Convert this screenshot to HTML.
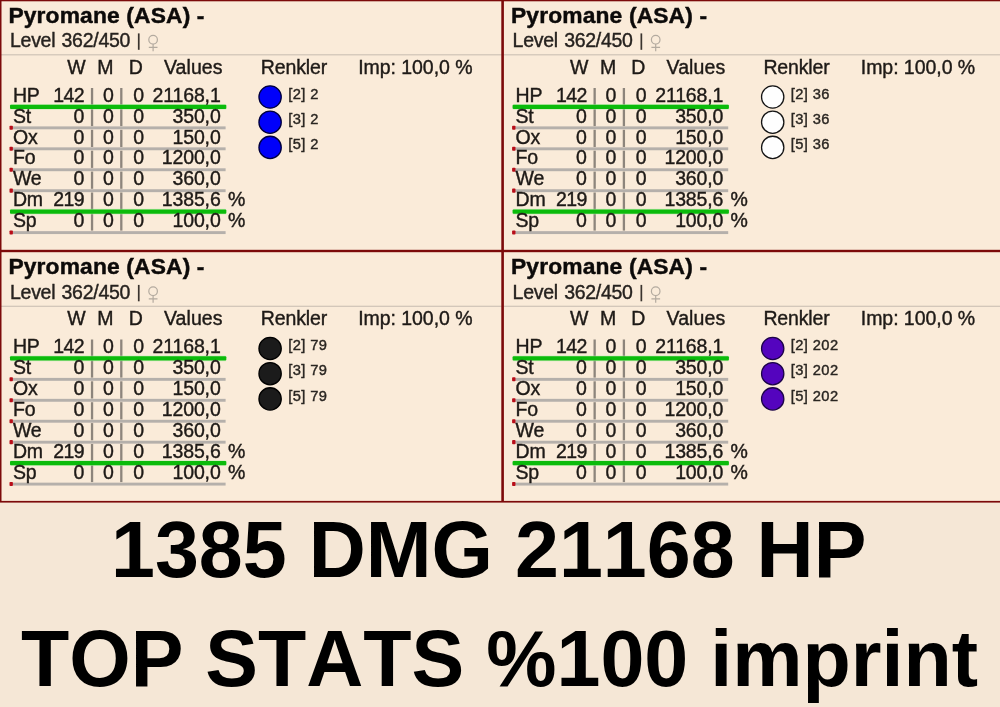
<!DOCTYPE html>
<html><head><meta charset="utf-8"><title>Pyromane</title>
<style>
html,body{margin:0;padding:0}
body{width:1000px;height:707px;overflow:hidden;position:relative;background:#f5e7d6;font-family:"Liberation Sans",sans-serif;color:#1e1a17}
.top{will-change:transform;position:absolute;left:0;top:0;width:1000px;height:503px;background:#faebd9;overflow:hidden}
.top svg{position:absolute;left:0;top:0}
.p{position:absolute;width:502.6px;height:251.5px}
.t{position:absolute;white-space:pre;line-height:1;letter-spacing:-0.15px;-webkit-text-stroke:0.4px currentColor}
.b{font-weight:bold;color:#0c0a09}
.lv{color:#26221f}
.cl{color:#2a2622}
.big{will-change:transform;position:absolute;left:0;white-space:pre;font-weight:bold;color:#000;font-size:79.0px;line-height:1;font-kerning:none}
</style></head><body>
<div class="top">
<svg width="1000" height="503" viewBox="0 0 1000 503">
<rect x="0" y="502.6" width="1000" height="0.4" fill="#f5e7d6"/>
<g transform="translate(0 0)">
<rect x="0" y="54.2" width="502.6" height="1.2" fill="#cfc4b6"/>
<g fill="none" stroke="#b3aa9f" stroke-width="1.2"><circle cx="153.1" cy="39.7" r="4.3"/><path d="M153.1 44V51.3M148.8 47.3H157.5"/></g>
<rect x="137.9" y="33.4" width="1.7" height="16.4" fill="#3a342f"/>
<rect x="90.90" y="88.00" width="2.3" height="17.2" fill="#8d857c"/>
<rect x="120.15" y="88.00" width="2.3" height="17.2" fill="#8d857c"/>
<rect x="12.6" y="126.40" width="213" height="2.9" fill="#b5b0ab"/>
<rect x="9.5" y="125.75" width="3.4" height="4.1" rx="0.8" fill="#b80d18"/>
<rect x="90.90" y="108.90" width="2.3" height="17.2" fill="#8d857c"/>
<rect x="120.15" y="108.90" width="2.3" height="17.2" fill="#8d857c"/>
<rect x="12.6" y="147.35" width="213" height="2.9" fill="#b5b0ab"/>
<rect x="9.5" y="146.70" width="3.4" height="4.1" rx="0.8" fill="#b80d18"/>
<rect x="90.90" y="129.80" width="2.3" height="17.2" fill="#8d857c"/>
<rect x="120.15" y="129.80" width="2.3" height="17.2" fill="#8d857c"/>
<rect x="12.6" y="168.30" width="213" height="2.9" fill="#b5b0ab"/>
<rect x="9.5" y="167.65" width="3.4" height="4.1" rx="0.8" fill="#b80d18"/>
<rect x="90.90" y="150.70" width="2.3" height="17.2" fill="#8d857c"/>
<rect x="120.15" y="150.70" width="2.3" height="17.2" fill="#8d857c"/>
<rect x="12.6" y="189.25" width="213" height="2.9" fill="#b5b0ab"/>
<rect x="9.5" y="188.60" width="3.4" height="4.1" rx="0.8" fill="#b80d18"/>
<rect x="90.90" y="171.60" width="2.3" height="17.2" fill="#8d857c"/>
<rect x="120.15" y="171.60" width="2.3" height="17.2" fill="#8d857c"/>
<rect x="90.90" y="192.50" width="2.3" height="17.2" fill="#8d857c"/>
<rect x="120.15" y="192.50" width="2.3" height="17.2" fill="#8d857c"/>
<rect x="12.6" y="231.15" width="213" height="2.9" fill="#b5b0ab"/>
<rect x="9.5" y="230.50" width="3.4" height="4.1" rx="0.8" fill="#b80d18"/>
<rect x="90.90" y="213.40" width="2.3" height="17.2" fill="#8d857c"/>
<rect x="120.15" y="213.40" width="2.3" height="17.2" fill="#8d857c"/>
<rect x="9.9" y="104.10" width="216.6" height="5.6" rx="1.5" fill="#b9ecae" opacity="0.55"/>
<rect x="10" y="104.85" width="216.3" height="4.1" rx="1" fill="#0bbb0b"/>
<rect x="9.9" y="208.85" width="216.6" height="5.6" rx="1.5" fill="#b9ecae" opacity="0.55"/>
<rect x="10" y="209.60" width="216.3" height="4.1" rx="1" fill="#0bbb0b"/>
<circle cx="270.1" cy="97.00" r="11.15" fill="#0000fa" stroke="#00003c" stroke-width="1.3"/>
<circle cx="270.1" cy="122.20" r="11.15" fill="#0000fa" stroke="#00003c" stroke-width="1.3"/>
<circle cx="270.1" cy="147.40" r="11.15" fill="#0000fa" stroke="#00003c" stroke-width="1.3"/>
</g>
<g transform="translate(502.6 0)">
<rect x="0" y="54.2" width="502.6" height="1.2" fill="#cfc4b6"/>
<g fill="none" stroke="#b3aa9f" stroke-width="1.2"><circle cx="153.1" cy="39.7" r="4.3"/><path d="M153.1 44V51.3M148.8 47.3H157.5"/></g>
<rect x="137.9" y="33.4" width="1.7" height="16.4" fill="#3a342f"/>
<rect x="90.90" y="88.00" width="2.3" height="17.2" fill="#8d857c"/>
<rect x="120.15" y="88.00" width="2.3" height="17.2" fill="#8d857c"/>
<rect x="12.6" y="126.40" width="213" height="2.9" fill="#b5b0ab"/>
<rect x="9.5" y="125.75" width="3.4" height="4.1" rx="0.8" fill="#b80d18"/>
<rect x="90.90" y="108.90" width="2.3" height="17.2" fill="#8d857c"/>
<rect x="120.15" y="108.90" width="2.3" height="17.2" fill="#8d857c"/>
<rect x="12.6" y="147.35" width="213" height="2.9" fill="#b5b0ab"/>
<rect x="9.5" y="146.70" width="3.4" height="4.1" rx="0.8" fill="#b80d18"/>
<rect x="90.90" y="129.80" width="2.3" height="17.2" fill="#8d857c"/>
<rect x="120.15" y="129.80" width="2.3" height="17.2" fill="#8d857c"/>
<rect x="12.6" y="168.30" width="213" height="2.9" fill="#b5b0ab"/>
<rect x="9.5" y="167.65" width="3.4" height="4.1" rx="0.8" fill="#b80d18"/>
<rect x="90.90" y="150.70" width="2.3" height="17.2" fill="#8d857c"/>
<rect x="120.15" y="150.70" width="2.3" height="17.2" fill="#8d857c"/>
<rect x="12.6" y="189.25" width="213" height="2.9" fill="#b5b0ab"/>
<rect x="9.5" y="188.60" width="3.4" height="4.1" rx="0.8" fill="#b80d18"/>
<rect x="90.90" y="171.60" width="2.3" height="17.2" fill="#8d857c"/>
<rect x="120.15" y="171.60" width="2.3" height="17.2" fill="#8d857c"/>
<rect x="90.90" y="192.50" width="2.3" height="17.2" fill="#8d857c"/>
<rect x="120.15" y="192.50" width="2.3" height="17.2" fill="#8d857c"/>
<rect x="12.6" y="231.15" width="213" height="2.9" fill="#b5b0ab"/>
<rect x="9.5" y="230.50" width="3.4" height="4.1" rx="0.8" fill="#b80d18"/>
<rect x="90.90" y="213.40" width="2.3" height="17.2" fill="#8d857c"/>
<rect x="120.15" y="213.40" width="2.3" height="17.2" fill="#8d857c"/>
<rect x="9.9" y="104.10" width="216.6" height="5.6" rx="1.5" fill="#b9ecae" opacity="0.55"/>
<rect x="10" y="104.85" width="216.3" height="4.1" rx="1" fill="#0bbb0b"/>
<rect x="9.9" y="208.85" width="216.6" height="5.6" rx="1.5" fill="#b9ecae" opacity="0.55"/>
<rect x="10" y="209.60" width="216.3" height="4.1" rx="1" fill="#0bbb0b"/>
<circle cx="270.1" cy="97.00" r="11.15" fill="#fefefe" stroke="#141414" stroke-width="1.3"/>
<circle cx="270.1" cy="122.20" r="11.15" fill="#fefefe" stroke="#141414" stroke-width="1.3"/>
<circle cx="270.1" cy="147.40" r="11.15" fill="#fefefe" stroke="#141414" stroke-width="1.3"/>
</g>
<g transform="translate(0 251.5)">
<rect x="0" y="54.2" width="502.6" height="1.2" fill="#cfc4b6"/>
<g fill="none" stroke="#b3aa9f" stroke-width="1.2"><circle cx="153.1" cy="39.7" r="4.3"/><path d="M153.1 44V51.3M148.8 47.3H157.5"/></g>
<rect x="137.9" y="33.4" width="1.7" height="16.4" fill="#3a342f"/>
<rect x="90.90" y="88.00" width="2.3" height="17.2" fill="#8d857c"/>
<rect x="120.15" y="88.00" width="2.3" height="17.2" fill="#8d857c"/>
<rect x="12.6" y="126.40" width="213" height="2.9" fill="#b5b0ab"/>
<rect x="9.5" y="125.75" width="3.4" height="4.1" rx="0.8" fill="#b80d18"/>
<rect x="90.90" y="108.90" width="2.3" height="17.2" fill="#8d857c"/>
<rect x="120.15" y="108.90" width="2.3" height="17.2" fill="#8d857c"/>
<rect x="12.6" y="147.35" width="213" height="2.9" fill="#b5b0ab"/>
<rect x="9.5" y="146.70" width="3.4" height="4.1" rx="0.8" fill="#b80d18"/>
<rect x="90.90" y="129.80" width="2.3" height="17.2" fill="#8d857c"/>
<rect x="120.15" y="129.80" width="2.3" height="17.2" fill="#8d857c"/>
<rect x="12.6" y="168.30" width="213" height="2.9" fill="#b5b0ab"/>
<rect x="9.5" y="167.65" width="3.4" height="4.1" rx="0.8" fill="#b80d18"/>
<rect x="90.90" y="150.70" width="2.3" height="17.2" fill="#8d857c"/>
<rect x="120.15" y="150.70" width="2.3" height="17.2" fill="#8d857c"/>
<rect x="12.6" y="189.25" width="213" height="2.9" fill="#b5b0ab"/>
<rect x="9.5" y="188.60" width="3.4" height="4.1" rx="0.8" fill="#b80d18"/>
<rect x="90.90" y="171.60" width="2.3" height="17.2" fill="#8d857c"/>
<rect x="120.15" y="171.60" width="2.3" height="17.2" fill="#8d857c"/>
<rect x="90.90" y="192.50" width="2.3" height="17.2" fill="#8d857c"/>
<rect x="120.15" y="192.50" width="2.3" height="17.2" fill="#8d857c"/>
<rect x="12.6" y="231.15" width="213" height="2.9" fill="#b5b0ab"/>
<rect x="9.5" y="230.50" width="3.4" height="4.1" rx="0.8" fill="#b80d18"/>
<rect x="90.90" y="213.40" width="2.3" height="17.2" fill="#8d857c"/>
<rect x="120.15" y="213.40" width="2.3" height="17.2" fill="#8d857c"/>
<rect x="9.9" y="104.10" width="216.6" height="5.6" rx="1.5" fill="#b9ecae" opacity="0.55"/>
<rect x="10" y="104.85" width="216.3" height="4.1" rx="1" fill="#0bbb0b"/>
<rect x="9.9" y="208.85" width="216.6" height="5.6" rx="1.5" fill="#b9ecae" opacity="0.55"/>
<rect x="10" y="209.60" width="216.3" height="4.1" rx="1" fill="#0bbb0b"/>
<circle cx="270.1" cy="97.00" r="11.15" fill="#1b1b1b" stroke="#000" stroke-width="1.3"/>
<circle cx="270.1" cy="122.20" r="11.15" fill="#1b1b1b" stroke="#000" stroke-width="1.3"/>
<circle cx="270.1" cy="147.40" r="11.15" fill="#1b1b1b" stroke="#000" stroke-width="1.3"/>
</g>
<g transform="translate(502.6 251.5)">
<rect x="0" y="54.2" width="502.6" height="1.2" fill="#cfc4b6"/>
<g fill="none" stroke="#b3aa9f" stroke-width="1.2"><circle cx="153.1" cy="39.7" r="4.3"/><path d="M153.1 44V51.3M148.8 47.3H157.5"/></g>
<rect x="137.9" y="33.4" width="1.7" height="16.4" fill="#3a342f"/>
<rect x="90.90" y="88.00" width="2.3" height="17.2" fill="#8d857c"/>
<rect x="120.15" y="88.00" width="2.3" height="17.2" fill="#8d857c"/>
<rect x="12.6" y="126.40" width="213" height="2.9" fill="#b5b0ab"/>
<rect x="9.5" y="125.75" width="3.4" height="4.1" rx="0.8" fill="#b80d18"/>
<rect x="90.90" y="108.90" width="2.3" height="17.2" fill="#8d857c"/>
<rect x="120.15" y="108.90" width="2.3" height="17.2" fill="#8d857c"/>
<rect x="12.6" y="147.35" width="213" height="2.9" fill="#b5b0ab"/>
<rect x="9.5" y="146.70" width="3.4" height="4.1" rx="0.8" fill="#b80d18"/>
<rect x="90.90" y="129.80" width="2.3" height="17.2" fill="#8d857c"/>
<rect x="120.15" y="129.80" width="2.3" height="17.2" fill="#8d857c"/>
<rect x="12.6" y="168.30" width="213" height="2.9" fill="#b5b0ab"/>
<rect x="9.5" y="167.65" width="3.4" height="4.1" rx="0.8" fill="#b80d18"/>
<rect x="90.90" y="150.70" width="2.3" height="17.2" fill="#8d857c"/>
<rect x="120.15" y="150.70" width="2.3" height="17.2" fill="#8d857c"/>
<rect x="12.6" y="189.25" width="213" height="2.9" fill="#b5b0ab"/>
<rect x="9.5" y="188.60" width="3.4" height="4.1" rx="0.8" fill="#b80d18"/>
<rect x="90.90" y="171.60" width="2.3" height="17.2" fill="#8d857c"/>
<rect x="120.15" y="171.60" width="2.3" height="17.2" fill="#8d857c"/>
<rect x="90.90" y="192.50" width="2.3" height="17.2" fill="#8d857c"/>
<rect x="120.15" y="192.50" width="2.3" height="17.2" fill="#8d857c"/>
<rect x="12.6" y="231.15" width="213" height="2.9" fill="#b5b0ab"/>
<rect x="9.5" y="230.50" width="3.4" height="4.1" rx="0.8" fill="#b80d18"/>
<rect x="90.90" y="213.40" width="2.3" height="17.2" fill="#8d857c"/>
<rect x="120.15" y="213.40" width="2.3" height="17.2" fill="#8d857c"/>
<rect x="9.9" y="104.10" width="216.6" height="5.6" rx="1.5" fill="#b9ecae" opacity="0.55"/>
<rect x="10" y="104.85" width="216.3" height="4.1" rx="1" fill="#0bbb0b"/>
<rect x="9.9" y="208.85" width="216.6" height="5.6" rx="1.5" fill="#b9ecae" opacity="0.55"/>
<rect x="10" y="209.60" width="216.3" height="4.1" rx="1" fill="#0bbb0b"/>
<circle cx="270.1" cy="97.00" r="11.15" fill="#5404be" stroke="#1c0448" stroke-width="1.3"/>
<circle cx="270.1" cy="122.20" r="11.15" fill="#5404be" stroke="#1c0448" stroke-width="1.3"/>
<circle cx="270.1" cy="147.40" r="11.15" fill="#5404be" stroke="#1c0448" stroke-width="1.3"/>
</g>
<g fill="#7c0a0a">
<rect x="0" y="0" width="1000" height="1.3"/>
<rect x="0" y="0" width="1.5" height="502"/>
<rect x="501.3" y="0" width="2.6" height="502"/>
<rect x="0" y="249.8" width="1000" height="2.4"/>
<rect x="0" y="500.9" width="1000" height="1.7"/>
</g>
</svg>
<div class="p" style="left:0px;top:0px">
<span class="t b" style="left:8.40px;top:4.00px;font-size:22.8px;letter-spacing:0.15px;-webkit-text-stroke-width:0.45px;">Pyromane (ASA) -</span>
<span class="t lv" style="left:10.00px;top:31.00px;font-size:19.5px;letter-spacing:-0.28px;word-spacing:1.2px;">Level 362/450</span>
<span class="t " style="left:67.30px;top:58.00px;font-size:19.5px;">W</span>
<span class="t " style="left:97.30px;top:58.00px;font-size:19.5px;">M</span>
<span class="t " style="left:128.70px;top:58.00px;font-size:19.5px;">D</span>
<span class="t " style="left:163.90px;top:58.00px;font-size:19.5px;letter-spacing:0.1px;">Values</span>
<span class="t " style="left:260.85px;top:58.00px;font-size:19.5px;">Renkler</span>
<span class="t " style="left:358.20px;top:58.00px;font-size:19.5px;letter-spacing:-0.05px;">Imp: 100,0 %</span>
<span class="t " style="left:12.90px;top:86.00px;font-size:19.5px;">HP</span>
<span class="t " style="right:418.50px;top:86.00px;font-size:19.5px;letter-spacing:-0.6px;">142</span>
<span class="t " style="left:103.00px;top:86.00px;font-size:19.5px;">0</span>
<span class="t " style="left:133.20px;top:86.00px;font-size:19.5px;">0</span>
<span class="t " style="right:282.00px;top:86.00px;font-size:19.5px;">21168,1</span>
<span class="t " style="left:12.90px;top:107.00px;font-size:19.5px;">St</span>
<span class="t " style="right:418.50px;top:107.00px;font-size:19.5px;">0</span>
<span class="t " style="left:103.00px;top:107.00px;font-size:19.5px;">0</span>
<span class="t " style="left:133.20px;top:107.00px;font-size:19.5px;">0</span>
<span class="t " style="right:282.00px;top:107.00px;font-size:19.5px;">350,0</span>
<span class="t " style="left:12.90px;top:128.00px;font-size:19.5px;">Ox</span>
<span class="t " style="right:418.50px;top:128.00px;font-size:19.5px;">0</span>
<span class="t " style="left:103.00px;top:128.00px;font-size:19.5px;">0</span>
<span class="t " style="left:133.20px;top:128.00px;font-size:19.5px;">0</span>
<span class="t " style="right:282.00px;top:128.00px;font-size:19.5px;">150,0</span>
<span class="t " style="left:12.90px;top:148.00px;font-size:19.5px;">Fo</span>
<span class="t " style="right:418.50px;top:148.00px;font-size:19.5px;">0</span>
<span class="t " style="left:103.00px;top:148.00px;font-size:19.5px;">0</span>
<span class="t " style="left:133.20px;top:148.00px;font-size:19.5px;">0</span>
<span class="t " style="right:282.00px;top:148.00px;font-size:19.5px;">1200,0</span>
<span class="t " style="left:12.90px;top:169.00px;font-size:19.5px;">We</span>
<span class="t " style="right:418.50px;top:169.00px;font-size:19.5px;">0</span>
<span class="t " style="left:103.00px;top:169.00px;font-size:19.5px;">0</span>
<span class="t " style="left:133.20px;top:169.00px;font-size:19.5px;">0</span>
<span class="t " style="right:282.00px;top:169.00px;font-size:19.5px;">360,0</span>
<span class="t " style="left:12.90px;top:190.00px;font-size:19.5px;">Dm</span>
<span class="t " style="right:418.50px;top:190.00px;font-size:19.5px;letter-spacing:-0.6px;">219</span>
<span class="t " style="left:103.00px;top:190.00px;font-size:19.5px;">0</span>
<span class="t " style="left:133.20px;top:190.00px;font-size:19.5px;">0</span>
<span class="t " style="right:282.00px;top:190.00px;font-size:19.5px;">1385,6</span>
<span class="t " style="left:228.00px;top:190.00px;font-size:19.5px;">%</span>
<span class="t " style="left:12.90px;top:211.00px;font-size:19.5px;">Sp</span>
<span class="t " style="right:418.50px;top:211.00px;font-size:19.5px;">0</span>
<span class="t " style="left:103.00px;top:211.00px;font-size:19.5px;">0</span>
<span class="t " style="left:133.20px;top:211.00px;font-size:19.5px;">0</span>
<span class="t " style="right:282.00px;top:211.00px;font-size:19.5px;">100,0</span>
<span class="t " style="left:228.00px;top:211.00px;font-size:19.5px;">%</span>
<span class="t cl" style="left:288.20px;top:87.00px;font-size:14.7px;letter-spacing:0.4px;">[2] 2</span>
<span class="t cl" style="left:288.20px;top:112.00px;font-size:14.7px;letter-spacing:0.4px;">[3] 2</span>
<span class="t cl" style="left:288.20px;top:137.00px;font-size:14.7px;letter-spacing:0.4px;">[5] 2</span>
</div>
<div class="p" style="left:502.6px;top:0px">
<span class="t b" style="left:8.40px;top:4.00px;font-size:22.8px;letter-spacing:0.15px;-webkit-text-stroke-width:0.45px;">Pyromane (ASA) -</span>
<span class="t lv" style="left:10.00px;top:31.00px;font-size:19.5px;letter-spacing:-0.28px;word-spacing:1.2px;">Level 362/450</span>
<span class="t " style="left:67.30px;top:58.00px;font-size:19.5px;">W</span>
<span class="t " style="left:97.30px;top:58.00px;font-size:19.5px;">M</span>
<span class="t " style="left:128.70px;top:58.00px;font-size:19.5px;">D</span>
<span class="t " style="left:163.90px;top:58.00px;font-size:19.5px;letter-spacing:0.1px;">Values</span>
<span class="t " style="left:260.85px;top:58.00px;font-size:19.5px;">Renkler</span>
<span class="t " style="left:358.20px;top:58.00px;font-size:19.5px;letter-spacing:-0.05px;">Imp: 100,0 %</span>
<span class="t " style="left:12.90px;top:86.00px;font-size:19.5px;">HP</span>
<span class="t " style="right:418.50px;top:86.00px;font-size:19.5px;letter-spacing:-0.6px;">142</span>
<span class="t " style="left:103.00px;top:86.00px;font-size:19.5px;">0</span>
<span class="t " style="left:133.20px;top:86.00px;font-size:19.5px;">0</span>
<span class="t " style="right:282.00px;top:86.00px;font-size:19.5px;">21168,1</span>
<span class="t " style="left:12.90px;top:107.00px;font-size:19.5px;">St</span>
<span class="t " style="right:418.50px;top:107.00px;font-size:19.5px;">0</span>
<span class="t " style="left:103.00px;top:107.00px;font-size:19.5px;">0</span>
<span class="t " style="left:133.20px;top:107.00px;font-size:19.5px;">0</span>
<span class="t " style="right:282.00px;top:107.00px;font-size:19.5px;">350,0</span>
<span class="t " style="left:12.90px;top:128.00px;font-size:19.5px;">Ox</span>
<span class="t " style="right:418.50px;top:128.00px;font-size:19.5px;">0</span>
<span class="t " style="left:103.00px;top:128.00px;font-size:19.5px;">0</span>
<span class="t " style="left:133.20px;top:128.00px;font-size:19.5px;">0</span>
<span class="t " style="right:282.00px;top:128.00px;font-size:19.5px;">150,0</span>
<span class="t " style="left:12.90px;top:148.00px;font-size:19.5px;">Fo</span>
<span class="t " style="right:418.50px;top:148.00px;font-size:19.5px;">0</span>
<span class="t " style="left:103.00px;top:148.00px;font-size:19.5px;">0</span>
<span class="t " style="left:133.20px;top:148.00px;font-size:19.5px;">0</span>
<span class="t " style="right:282.00px;top:148.00px;font-size:19.5px;">1200,0</span>
<span class="t " style="left:12.90px;top:169.00px;font-size:19.5px;">We</span>
<span class="t " style="right:418.50px;top:169.00px;font-size:19.5px;">0</span>
<span class="t " style="left:103.00px;top:169.00px;font-size:19.5px;">0</span>
<span class="t " style="left:133.20px;top:169.00px;font-size:19.5px;">0</span>
<span class="t " style="right:282.00px;top:169.00px;font-size:19.5px;">360,0</span>
<span class="t " style="left:12.90px;top:190.00px;font-size:19.5px;">Dm</span>
<span class="t " style="right:418.50px;top:190.00px;font-size:19.5px;letter-spacing:-0.6px;">219</span>
<span class="t " style="left:103.00px;top:190.00px;font-size:19.5px;">0</span>
<span class="t " style="left:133.20px;top:190.00px;font-size:19.5px;">0</span>
<span class="t " style="right:282.00px;top:190.00px;font-size:19.5px;">1385,6</span>
<span class="t " style="left:228.00px;top:190.00px;font-size:19.5px;">%</span>
<span class="t " style="left:12.90px;top:211.00px;font-size:19.5px;">Sp</span>
<span class="t " style="right:418.50px;top:211.00px;font-size:19.5px;">0</span>
<span class="t " style="left:103.00px;top:211.00px;font-size:19.5px;">0</span>
<span class="t " style="left:133.20px;top:211.00px;font-size:19.5px;">0</span>
<span class="t " style="right:282.00px;top:211.00px;font-size:19.5px;">100,0</span>
<span class="t " style="left:228.00px;top:211.00px;font-size:19.5px;">%</span>
<span class="t cl" style="left:288.20px;top:87.00px;font-size:14.7px;letter-spacing:0.4px;">[2] 36</span>
<span class="t cl" style="left:288.20px;top:112.00px;font-size:14.7px;letter-spacing:0.4px;">[3] 36</span>
<span class="t cl" style="left:288.20px;top:137.00px;font-size:14.7px;letter-spacing:0.4px;">[5] 36</span>
</div>
<div class="p" style="left:0px;top:251.5px">
<span class="t b" style="left:8.40px;top:3.50px;font-size:22.8px;letter-spacing:0.15px;-webkit-text-stroke-width:0.45px;">Pyromane (ASA) -</span>
<span class="t lv" style="left:10.00px;top:31.50px;font-size:19.5px;letter-spacing:-0.28px;word-spacing:1.2px;">Level 362/450</span>
<span class="t " style="left:67.30px;top:57.50px;font-size:19.5px;">W</span>
<span class="t " style="left:97.30px;top:57.50px;font-size:19.5px;">M</span>
<span class="t " style="left:128.70px;top:57.50px;font-size:19.5px;">D</span>
<span class="t " style="left:163.90px;top:57.50px;font-size:19.5px;letter-spacing:0.1px;">Values</span>
<span class="t " style="left:260.85px;top:57.50px;font-size:19.5px;">Renkler</span>
<span class="t " style="left:358.20px;top:57.50px;font-size:19.5px;letter-spacing:-0.05px;">Imp: 100,0 %</span>
<span class="t " style="left:12.90px;top:85.50px;font-size:19.5px;">HP</span>
<span class="t " style="right:418.50px;top:85.50px;font-size:19.5px;letter-spacing:-0.6px;">142</span>
<span class="t " style="left:103.00px;top:85.50px;font-size:19.5px;">0</span>
<span class="t " style="left:133.20px;top:85.50px;font-size:19.5px;">0</span>
<span class="t " style="right:282.00px;top:85.50px;font-size:19.5px;">21168,1</span>
<span class="t " style="left:12.90px;top:106.50px;font-size:19.5px;">St</span>
<span class="t " style="right:418.50px;top:106.50px;font-size:19.5px;">0</span>
<span class="t " style="left:103.00px;top:106.50px;font-size:19.5px;">0</span>
<span class="t " style="left:133.20px;top:106.50px;font-size:19.5px;">0</span>
<span class="t " style="right:282.00px;top:106.50px;font-size:19.5px;">350,0</span>
<span class="t " style="left:12.90px;top:127.50px;font-size:19.5px;">Ox</span>
<span class="t " style="right:418.50px;top:127.50px;font-size:19.5px;">0</span>
<span class="t " style="left:103.00px;top:127.50px;font-size:19.5px;">0</span>
<span class="t " style="left:133.20px;top:127.50px;font-size:19.5px;">0</span>
<span class="t " style="right:282.00px;top:127.50px;font-size:19.5px;">150,0</span>
<span class="t " style="left:12.90px;top:148.50px;font-size:19.5px;">Fo</span>
<span class="t " style="right:418.50px;top:148.50px;font-size:19.5px;">0</span>
<span class="t " style="left:103.00px;top:148.50px;font-size:19.5px;">0</span>
<span class="t " style="left:133.20px;top:148.50px;font-size:19.5px;">0</span>
<span class="t " style="right:282.00px;top:148.50px;font-size:19.5px;">1200,0</span>
<span class="t " style="left:12.90px;top:169.50px;font-size:19.5px;">We</span>
<span class="t " style="right:418.50px;top:169.50px;font-size:19.5px;">0</span>
<span class="t " style="left:103.00px;top:169.50px;font-size:19.5px;">0</span>
<span class="t " style="left:133.20px;top:169.50px;font-size:19.5px;">0</span>
<span class="t " style="right:282.00px;top:169.50px;font-size:19.5px;">360,0</span>
<span class="t " style="left:12.90px;top:190.50px;font-size:19.5px;">Dm</span>
<span class="t " style="right:418.50px;top:190.50px;font-size:19.5px;letter-spacing:-0.6px;">219</span>
<span class="t " style="left:103.00px;top:190.50px;font-size:19.5px;">0</span>
<span class="t " style="left:133.20px;top:190.50px;font-size:19.5px;">0</span>
<span class="t " style="right:282.00px;top:190.50px;font-size:19.5px;">1385,6</span>
<span class="t " style="left:228.00px;top:190.50px;font-size:19.5px;">%</span>
<span class="t " style="left:12.90px;top:211.50px;font-size:19.5px;">Sp</span>
<span class="t " style="right:418.50px;top:211.50px;font-size:19.5px;">0</span>
<span class="t " style="left:103.00px;top:211.50px;font-size:19.5px;">0</span>
<span class="t " style="left:133.20px;top:211.50px;font-size:19.5px;">0</span>
<span class="t " style="right:282.00px;top:211.50px;font-size:19.5px;">100,0</span>
<span class="t " style="left:228.00px;top:211.50px;font-size:19.5px;">%</span>
<span class="t cl" style="left:288.20px;top:86.50px;font-size:14.7px;letter-spacing:0.4px;">[2] 79</span>
<span class="t cl" style="left:288.20px;top:111.50px;font-size:14.7px;letter-spacing:0.4px;">[3] 79</span>
<span class="t cl" style="left:288.20px;top:137.50px;font-size:14.7px;letter-spacing:0.4px;">[5] 79</span>
</div>
<div class="p" style="left:502.6px;top:251.5px">
<span class="t b" style="left:8.40px;top:3.50px;font-size:22.8px;letter-spacing:0.15px;-webkit-text-stroke-width:0.45px;">Pyromane (ASA) -</span>
<span class="t lv" style="left:10.00px;top:31.50px;font-size:19.5px;letter-spacing:-0.28px;word-spacing:1.2px;">Level 362/450</span>
<span class="t " style="left:67.30px;top:57.50px;font-size:19.5px;">W</span>
<span class="t " style="left:97.30px;top:57.50px;font-size:19.5px;">M</span>
<span class="t " style="left:128.70px;top:57.50px;font-size:19.5px;">D</span>
<span class="t " style="left:163.90px;top:57.50px;font-size:19.5px;letter-spacing:0.1px;">Values</span>
<span class="t " style="left:260.85px;top:57.50px;font-size:19.5px;">Renkler</span>
<span class="t " style="left:358.20px;top:57.50px;font-size:19.5px;letter-spacing:-0.05px;">Imp: 100,0 %</span>
<span class="t " style="left:12.90px;top:85.50px;font-size:19.5px;">HP</span>
<span class="t " style="right:418.50px;top:85.50px;font-size:19.5px;letter-spacing:-0.6px;">142</span>
<span class="t " style="left:103.00px;top:85.50px;font-size:19.5px;">0</span>
<span class="t " style="left:133.20px;top:85.50px;font-size:19.5px;">0</span>
<span class="t " style="right:282.00px;top:85.50px;font-size:19.5px;">21168,1</span>
<span class="t " style="left:12.90px;top:106.50px;font-size:19.5px;">St</span>
<span class="t " style="right:418.50px;top:106.50px;font-size:19.5px;">0</span>
<span class="t " style="left:103.00px;top:106.50px;font-size:19.5px;">0</span>
<span class="t " style="left:133.20px;top:106.50px;font-size:19.5px;">0</span>
<span class="t " style="right:282.00px;top:106.50px;font-size:19.5px;">350,0</span>
<span class="t " style="left:12.90px;top:127.50px;font-size:19.5px;">Ox</span>
<span class="t " style="right:418.50px;top:127.50px;font-size:19.5px;">0</span>
<span class="t " style="left:103.00px;top:127.50px;font-size:19.5px;">0</span>
<span class="t " style="left:133.20px;top:127.50px;font-size:19.5px;">0</span>
<span class="t " style="right:282.00px;top:127.50px;font-size:19.5px;">150,0</span>
<span class="t " style="left:12.90px;top:148.50px;font-size:19.5px;">Fo</span>
<span class="t " style="right:418.50px;top:148.50px;font-size:19.5px;">0</span>
<span class="t " style="left:103.00px;top:148.50px;font-size:19.5px;">0</span>
<span class="t " style="left:133.20px;top:148.50px;font-size:19.5px;">0</span>
<span class="t " style="right:282.00px;top:148.50px;font-size:19.5px;">1200,0</span>
<span class="t " style="left:12.90px;top:169.50px;font-size:19.5px;">We</span>
<span class="t " style="right:418.50px;top:169.50px;font-size:19.5px;">0</span>
<span class="t " style="left:103.00px;top:169.50px;font-size:19.5px;">0</span>
<span class="t " style="left:133.20px;top:169.50px;font-size:19.5px;">0</span>
<span class="t " style="right:282.00px;top:169.50px;font-size:19.5px;">360,0</span>
<span class="t " style="left:12.90px;top:190.50px;font-size:19.5px;">Dm</span>
<span class="t " style="right:418.50px;top:190.50px;font-size:19.5px;letter-spacing:-0.6px;">219</span>
<span class="t " style="left:103.00px;top:190.50px;font-size:19.5px;">0</span>
<span class="t " style="left:133.20px;top:190.50px;font-size:19.5px;">0</span>
<span class="t " style="right:282.00px;top:190.50px;font-size:19.5px;">1385,6</span>
<span class="t " style="left:228.00px;top:190.50px;font-size:19.5px;">%</span>
<span class="t " style="left:12.90px;top:211.50px;font-size:19.5px;">Sp</span>
<span class="t " style="right:418.50px;top:211.50px;font-size:19.5px;">0</span>
<span class="t " style="left:103.00px;top:211.50px;font-size:19.5px;">0</span>
<span class="t " style="left:133.20px;top:211.50px;font-size:19.5px;">0</span>
<span class="t " style="right:282.00px;top:211.50px;font-size:19.5px;">100,0</span>
<span class="t " style="left:228.00px;top:211.50px;font-size:19.5px;">%</span>
<span class="t cl" style="left:288.20px;top:86.50px;font-size:14.7px;letter-spacing:0.4px;">[2] 202</span>
<span class="t cl" style="left:288.20px;top:111.50px;font-size:14.7px;letter-spacing:0.4px;">[3] 202</span>
<span class="t cl" style="left:288.20px;top:137.50px;font-size:14.7px;letter-spacing:0.4px;">[5] 202</span>
</div>
</div>
<div class="big" style="left:110.6px;top:510px">1385 DMG 21168 HP</div>
<div class="big" style="left:21.4px;top:619px">TOP STATS %100 imprint</div>
</body></html>
